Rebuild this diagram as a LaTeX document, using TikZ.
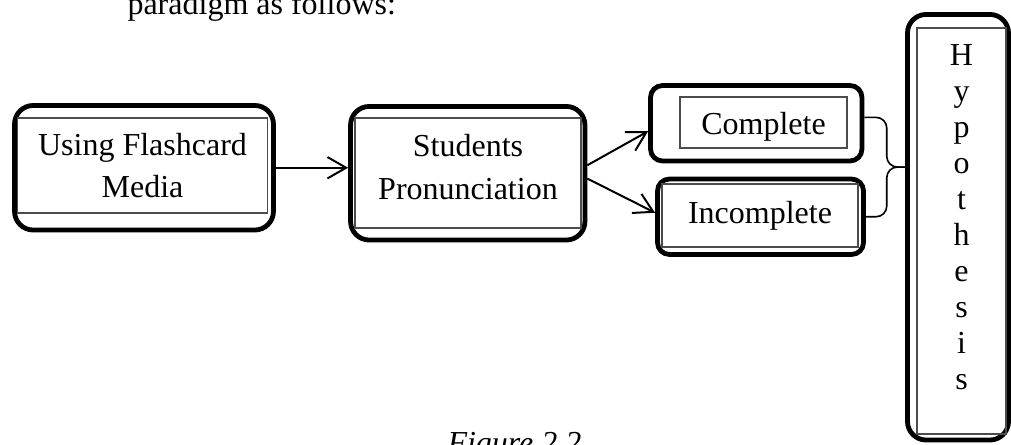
\documentclass[tikz,border=0pt]{standalone}
\usepackage{fontspec}
\setmainfont{Liberation Serif}
\usetikzlibrary{arrows.meta,calc}

\begin{document}
\begin{tikzpicture}[
    x=0.375pt, y=-0.375pt,
    >={Straight Barb[length=7pt,width=8pt]},
    frame/.style={draw, line width=1.8pt, rounded corners=7pt, inner sep=0pt},
    smallframe/.style={frame, rounded corners=4.5pt},
    inbox/.style={draw=black!70, line width=0.45pt, inner sep=0pt, align=center, font=\fontsize{12}{16}\selectfont},
    pagetext/.style={anchor=base west, inner sep=0pt, font=\fontsize{12}{14}\selectfont},
    link/.style={->, line width=0.75pt},
    brace/.style={line width=0.6pt, rounded corners=4pt}
]
    \clip (0,0) rectangle (1011,445);

    \node[pagetext] (intro) at (127,15) {paradigm as follows:};
    \node[pagetext, font=\fontsize{12}{14}\selectfont\itshape] (caption) at (447,454) {Figure 2.2};

    % outer frames
    \node[frame, minimum width=97.1pt, minimum height=46.7pt] (media) at (144,167.75) {};
    \node[frame, minimum width=87.9pt, minimum height=50.1pt] (pron) at (467.75,173.25) {};
    \node[smallframe, minimum width=79.3pt, minimum height=28.3pt] (comp) at (756.25,123.25) {};
    \node[smallframe, minimum width=77.25pt, minimum height=28.3pt] (inc) at (760.5,216.75) {};
    \node[frame, minimum width=37.9pt, minimum height=159.6pt] (hyp) at (958,227.25) {};

    % inner boxes with the texts
    \node[inbox, minimum width=93.75pt, minimum height=35.6pt] (mediatext) at (142.5,165.5) {Using Flashcard\\Media};
    \node[inbox, minimum width=84.75pt, minimum height=41.25pt, text depth=4.8pt] (prontext) at (468,173) {Students\\Pronunciation};
    \node[inbox, minimum width=62.6pt, minimum height=19.1pt, text height=11.2pt] (comptext) at (763.5,122.5) {Complete};
    \node[inbox, minimum width=73.5pt, minimum height=23.6pt] (inctext) at (760,215.5) {Incomplete};
    \node[inbox, minimum width=33.4pt, minimum height=152.25pt, text depth=10.8pt,
          font=\fontsize{12}{13.5}\selectfont] (hyptext) at (961.5,231) {H\\y\\p\\o\\t\\h\\e\\s\\i\\s};

    \draw[link] (media.east) -- (media.east -| pron.west);
    \draw[link] ([yshift=3pt]pron.east) -- ([yshift=-3pt]comp.west);
    \draw[link] ([yshift=-2pt]pron.east) -- ([yshift=1.5pt]inc.west);

    % brace into the hypothesis
    \coordinate (upend) at ([yshift=2.2pt]comp.east);
    \coordinate (lowend) at (inc.east);
    \coordinate (mid) at ($(upend)!0.5!(lowend)$);
    \coordinate (tip) at (mid -| hyp.west);
    \coordinate (spine) at ($(upend)!0.55!(tip)$);
    \draw[brace] (upend) -| (spine |- tip) -- (tip);
    \draw[brace] (tip) -- (spine |- tip) |- (lowend);
\end{tikzpicture}
\end{document}
